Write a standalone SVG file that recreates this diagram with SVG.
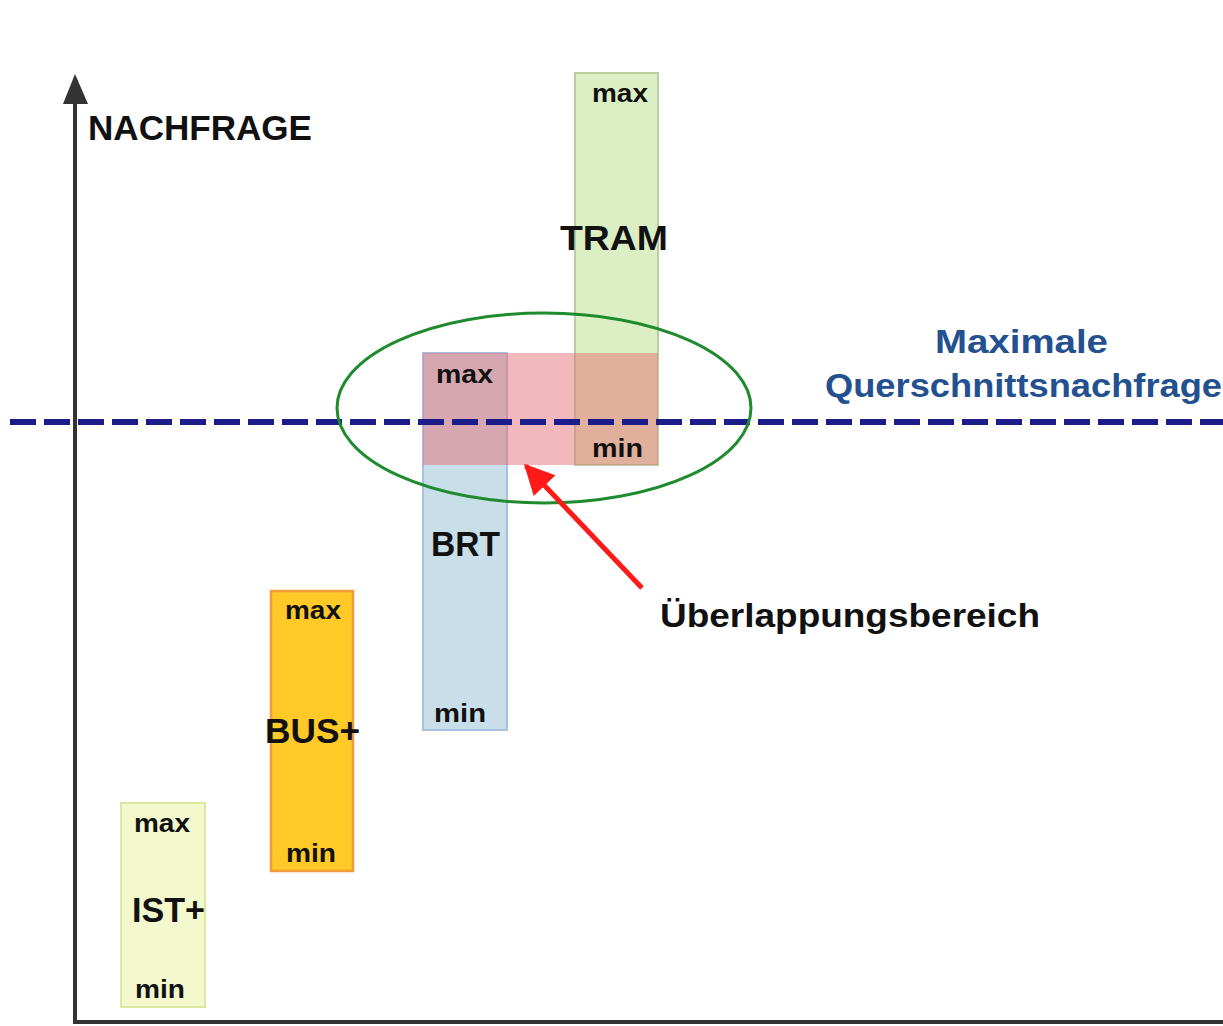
<svg xmlns="http://www.w3.org/2000/svg" width="1223" height="1026" viewBox="0 0 1223 1026">
  <style>
    .lbl { font-family: "Liberation Sans", Arial, sans-serif; font-weight: bold; fill: #111; }
    .mm { font-size: 26px; }
    .big { font-size: 35px; }
    .blue { fill: #23508f; font-size: 34px; font-family: "Liberation Sans", Arial, sans-serif; font-weight: bold; }
  </style>
  <defs>
    <marker id="redHead" viewBox="0 0 10 10" refX="9" refY="5" markerWidth="7" markerHeight="6" markerUnits="strokeWidth" orient="auto">
      <path d="M0,0 L10,5 L0,10 z" fill="#ff1a1a"/>
    </marker>
    <filter id="sh" x="-10%" y="-10%" width="130%" height="130%">
      <feGaussianBlur stdDeviation="3"/>
    </filter>
  </defs>
  <rect width="1223" height="1026" fill="#ffffff"/>

  <!-- axes -->
  <g id="axes">
    <line x1="75" y1="100" x2="75" y2="1022" stroke="#333333" stroke-width="4"/>
    <line x1="73" y1="1022" x2="1223" y2="1022" stroke="#333333" stroke-width="4"/>
    <polygon points="75,74 63,104 88,104" fill="#333333"/>
    <text class="lbl" x="88" y="140" font-size="35" textLength="224" lengthAdjust="spacingAndGlyphs">NACHFRAGE</text>
  </g>

  <!-- TRAM -->
  <g id="tram">
    <rect x="575" y="73" width="83" height="392" fill="#dcefc4" stroke="#b9cf9f" stroke-width="2"/>
    <text class="lbl mm" x="592" y="102" textLength="56" lengthAdjust="spacingAndGlyphs">max</text>
    <text class="lbl big" x="560" y="250" textLength="108" lengthAdjust="spacingAndGlyphs">TRAM</text>
  </g>

  <!-- BRT -->
  <g id="brt">
    <rect x="423" y="353" width="84" height="377" fill="#c8dfea" stroke="#a9c0df" stroke-width="2"/>
    <text class="lbl big" x="431" y="556" textLength="69" lengthAdjust="spacingAndGlyphs">BRT</text>
    <text class="lbl mm" x="434" y="722" textLength="52" lengthAdjust="spacingAndGlyphs">min</text>
  </g>

  <!-- overlap -->
  <g id="overlap">
    <rect x="423" y="353" width="235" height="112" fill="#e66a72" fill-opacity="0.48"/>
    <text class="lbl mm" x="436" y="383" textLength="57" lengthAdjust="spacingAndGlyphs">max</text>
    <text class="lbl mm" x="592" y="457" textLength="51" lengthAdjust="spacingAndGlyphs">min</text>
  </g>

  <!-- BUS+ -->
  <g id="bus">
    <rect x="271" y="591" width="82" height="280" fill="#ffc927" stroke="#f29b3c" stroke-width="2.5"/>
    <text class="lbl mm" x="285" y="619" textLength="56" lengthAdjust="spacingAndGlyphs">max</text>
    <text class="lbl big" x="265" y="743" textLength="95" lengthAdjust="spacingAndGlyphs">BUS+</text>
    <text class="lbl mm" x="286" y="862" textLength="50" lengthAdjust="spacingAndGlyphs">min</text>
  </g>

  <!-- IST+ -->
  <g id="ist">
    <rect x="121" y="803" width="84" height="204" fill="#f3f8cd" stroke="#dbe8a0" stroke-width="2"/>
    <text class="lbl mm" x="134" y="832" textLength="56" lengthAdjust="spacingAndGlyphs">max</text>
    <text class="lbl big" x="132" y="922" textLength="73" lengthAdjust="spacingAndGlyphs">IST+</text>
    <text class="lbl mm" x="135" y="998" textLength="50" lengthAdjust="spacingAndGlyphs">min</text>
  </g>

  <!-- max demand line -->
  <g id="maxline">
    <line x1="10" y1="428" x2="1223" y2="428" stroke="#9a9a9a" stroke-width="6" stroke-dasharray="26 8" opacity="0.5" filter="url(#sh)"/>
    <line x1="10" y1="422" x2="1223" y2="422" stroke="#1b1b8a" stroke-width="6" stroke-dasharray="26 8"/>
    <text class="blue" x="935" y="353" textLength="173" lengthAdjust="spacingAndGlyphs">Maximale</text>
    <text class="blue" x="825" y="397" textLength="397" lengthAdjust="spacingAndGlyphs">Querschnittsnachfrage</text>
  </g>

  <!-- connectors -->
  <g id="connectors">
    <ellipse cx="544" cy="408" rx="207" ry="95" fill="none" stroke="#1f8a2e" stroke-width="3"/>
    <line x1="642" y1="588" x2="526" y2="466" stroke="#ff1a1a" stroke-width="5" marker-end="url(#redHead)"/>
  </g>

  <g id="label-overlap">
    <text class="lbl" x="660" y="627" font-size="34" textLength="380" lengthAdjust="spacingAndGlyphs">Überlappungsbereich</text>
  </g>
</svg>
